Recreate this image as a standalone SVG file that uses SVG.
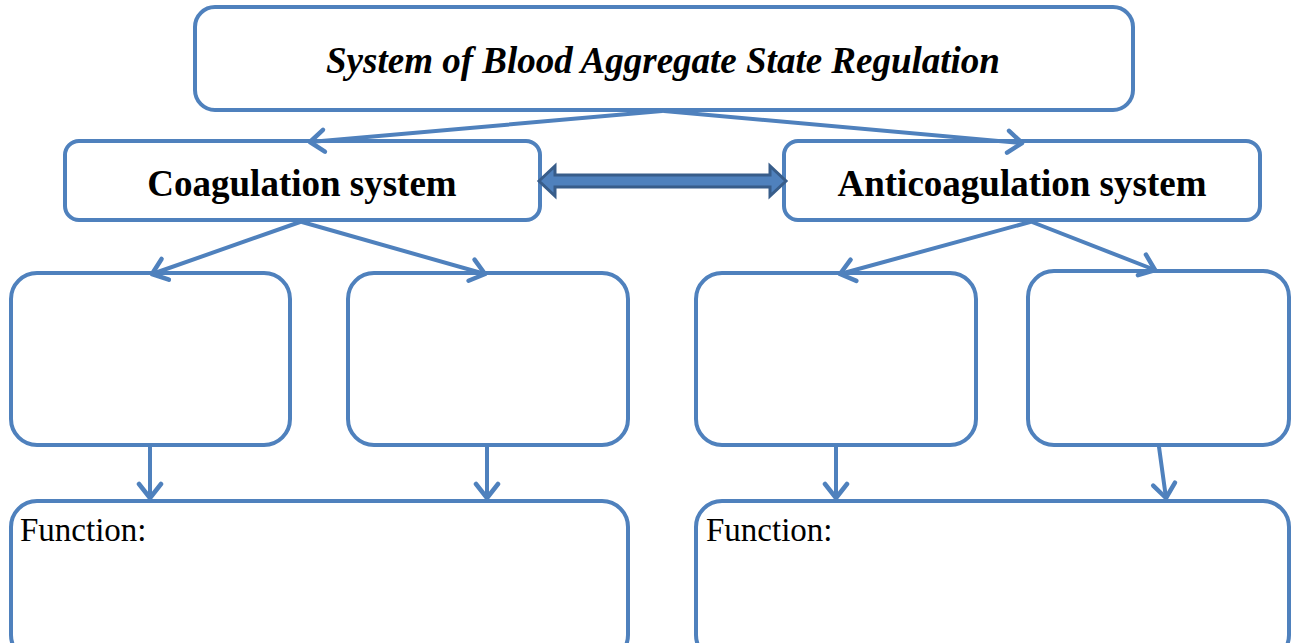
<svg xmlns="http://www.w3.org/2000/svg" width="1292" height="643" viewBox="0 0 1292 643">
  <style>
    .box { fill: #ffffff; stroke: #4f81bd; stroke-width: 4; }
    .link { fill: none; stroke: #4f81bd; stroke-width: 4; stroke-linecap: round; }
    .title { font-family: "Liberation Serif", "Times New Roman", serif; font-size: 37px; font-weight: bold; fill: #000; }
    .label { font-family: "Liberation Serif", "Times New Roman", serif; font-size: 33px; fill: #000; }
  </style>
  <defs>
    <marker id="head" viewBox="0 0 24 28" refX="19" refY="14" markerWidth="24" markerHeight="28" markerUnits="userSpaceOnUse" orient="auto">
      <path d="M5,3 L19,14 L5,25" fill="none" stroke="#4f81bd" stroke-width="4.5" stroke-linecap="round" stroke-linejoin="round"/>
    </marker>
  </defs>
  <rect width="1292" height="643" fill="#ffffff"/>

  <g id="root">
    <rect class="box" x="195" y="7" width="938" height="103" rx="20"/>
    <text class="title" x="663" y="73" text-anchor="middle" font-style="italic">System of Blood Aggregate State Regulation</text>
  </g>

  <g id="coagulation">
    <rect class="box" x="65" y="141" width="475" height="79" rx="14"/>
    <text class="title" x="302" y="196" text-anchor="middle">Coagulation system</text>
  </g>

  <g id="anticoagulation">
    <rect class="box" x="784" y="141" width="476" height="79" rx="14"/>
    <text class="title" x="1022" y="196" text-anchor="middle">Anticoagulation system</text>
  </g>

  <g id="coag-left"><rect class="box" x="11" y="273" width="279" height="172" rx="26"/></g>
  <g id="coag-right"><rect class="box" x="348" y="273" width="280" height="172" rx="26"/></g>
  <g id="anti-left"><rect class="box" x="696" y="273" width="280" height="172" rx="26"/></g>
  <g id="anti-right"><rect class="box" x="1028" y="271" width="261" height="174" rx="26"/></g>

  <g id="coag-function">
    <rect class="box" x="11" y="501" width="617" height="160" rx="26"/>
    <text class="label" x="20" y="541">Function:</text>
  </g>
  <g id="anti-function">
    <rect class="box" x="696" y="501" width="593" height="160" rx="26"/>
    <text class="label" x="706" y="541">Function:</text>
  </g>

  <g id="connectors">
    <line class="link" x1="662" y1="111" x2="310" y2="142" marker-end="url(#head)"/>
    <line class="link" x1="664" y1="111" x2="1022" y2="143" marker-end="url(#head)"/>
    <line class="link" x1="300" y1="222" x2="152" y2="274" marker-end="url(#head)"/>
    <line class="link" x1="302" y1="222" x2="485" y2="274" marker-end="url(#head)"/>
    <line class="link" x1="1030" y1="222" x2="840" y2="274" marker-end="url(#head)"/>
    <line class="link" x1="1032" y1="222" x2="1155" y2="270" marker-end="url(#head)"/>
    <line class="link" x1="150" y1="447" x2="150" y2="498" marker-end="url(#head)"/>
    <line class="link" x1="487" y1="447" x2="487" y2="498" marker-end="url(#head)"/>
    <line class="link" x1="836" y1="447" x2="836" y2="498" marker-end="url(#head)"/>
    <line class="link" x1="1159" y1="447" x2="1166" y2="498" marker-end="url(#head)"/>
    <!-- two-way block arrow between the two systems -->
    <path d="M539,181 L555,166 L555,175 L770,175 L770,166 L786,181 L770,196 L770,187 L555,187 L555,196 Z" fill="#4f81bd" stroke="#385d8a" stroke-width="3" stroke-linejoin="miter"/>
  </g>
</svg>
